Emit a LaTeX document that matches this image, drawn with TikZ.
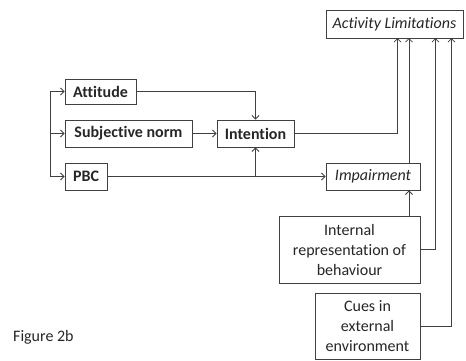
\documentclass[tikz,border=0pt]{standalone}
\usepackage{fontspec}
\setmainfont{Carlito}[Ligatures=NoCommon]
\usetikzlibrary{arrows.meta}
\begin{document}
\begin{tikzpicture}[x=1pt,y=-1pt,
  every node/.style={font=\fontsize{16}{20}\selectfont, text=black!85},
  box/.style={draw=black!75, line width=0.9pt, inner sep=0pt, align=center},
  conn/.style={draw=black!75, line width=0.9pt},
  arr/.style={conn, -{Straight Barb[length=3.5pt,width=7pt,line width=0.8pt]}}]
\useasboundingbox (0,0) rectangle (466,360);
\node[box, minimum width=137pt, minimum height=28pt] (act) at (394.5,24) {\itshape Activity Limitations};
\node[box, minimum width=71pt, minimum height=25pt] (att) at (100.5,91.5) {\bfseries Attitude};
\node[box, minimum width=127pt, minimum height=27pt] (sn) at (128.5,133.5) {\bfseries Subjective norm};
\node[box, minimum width=77pt, minimum height=27pt] (int) at (255.5,133.5) {\bfseries Intention};
\node[box, minimum width=42pt, minimum height=27pt] (pbc) at (86,176.5) {\bfseries PBC};
\node[box, minimum width=94pt, minimum height=27pt] (imp) at (373,176.5) {\itshape Impairment};
\node[box, minimum width=141pt, minimum height=67pt] (irep) at (349.5,249.5) {Internal\\representation of\\behaviour};
\node[box, minimum width=105pt, minimum height=66pt] (cues) at (367.5,326) {Cues in\\external\\environment};
\node[anchor=west, inner sep=0pt] (fig) at (13,337) {Figure 2b};
% coordinates
\coordinate (busT) at (50,91.5);
\coordinate (busM) at (50,133.5);
\coordinate (busB) at (50,176.5);
\coordinate (a1) at (397.5,38);
\coordinate (a2) at (409,38);
\coordinate (a3) at (435.5,38);
\coordinate (a4) at (451.5,38);
% left bus
\draw[conn] (busT) -- (busB);
\draw[arr] (busT) -- (att.west);
\draw[arr] (busM) -- (sn.west);
\draw[arr] (busB) -- (pbc.west);
% into intention
\draw[arr] (att.east) -| (int.north);
\draw[arr] (sn.east) -- (int.west);
\draw[arr] (pbc.east) -- (imp.west);
\coordinate (j) at (int.south |- pbc.east);
\draw[arr] (j) -- (int.south);
% into activity limitations
\draw[arr] (int.east) -| (a1);
\draw[arr] (a2 |- imp.north) -- (a2);
\draw[arr] (a2 |- irep.north) -- (a2 |- imp.south);
\draw[arr] (irep.east) -| (a3);
\draw[arr] (cues.east) -| (a4);
\end{tikzpicture}
\end{document}
